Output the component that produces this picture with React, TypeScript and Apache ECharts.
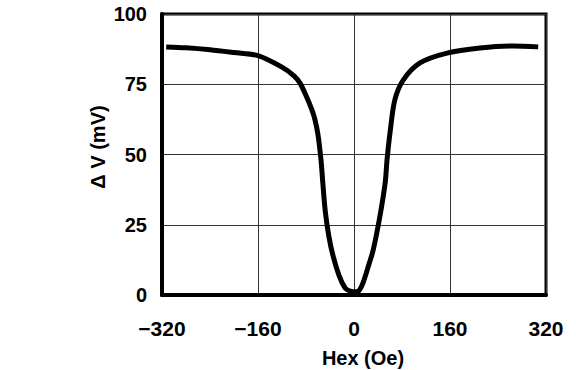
import React, { useEffect, useRef } from "react";
import * as echarts from "echarts";

const hexOe = [-313, -280, -240, -200, -160, -120, -100, -90, -80, -70, -65, -60, -55, -52, -48, -42, -35, -25, -15, -8, 0, 8, 15, 25, 32, 43, 52, 55, 60, 68, 82, 110, 155, 210, 265, 307];
const deltaV = [88.3, 88.0, 87.3, 86.3, 85.2, 81.1, 78.0, 75.4, 71.0, 65.8, 62.3, 57.0, 48.0, 40.0, 30.0, 21.0, 14.0, 7.0, 2.5, 1.5, 1.2, 1.5, 4.3, 11.0, 16.0, 27.8, 40.0, 48.0, 57.7, 69.4, 76.5, 82.6, 86.1, 87.9, 88.6, 88.3];
const xTicks = [-320, -160, 0, 160, 320];
const yTicks = [0, 25, 50, 75, 100];

const FONT = "'Liberation Sans', Arial, sans-serif";

export default function App() {
  const ref = useRef<HTMLDivElement>(null);
  useEffect(() => {
    document.body.style.margin = "0";
    if (!ref.current) return;
    const chart = echarts.init(ref.current, undefined, { renderer: "svg" });
    const data = hexOe.map((x, i) => [x, deltaV[i]]);
    chart.setOption({
      animation: false,
      backgroundColor: "#fff",
      grid: {
        left: 162,
        right: 30,
        top: 14,
        bottom: 75,
        show: true,
        borderColor: "#000",
        borderWidth: 3,
      },
      xAxis: {
        type: "value",
        min: xTicks[0],
        max: xTicks[xTicks.length - 1],
        interval: 160,
        axisLine: { show: true, onZero: false, lineStyle: { color: "#000", width: 4 } },
        axisTick: { show: false },
        splitLine: { show: true, lineStyle: { color: "#333", width: 1 } },
        axisLabel: {
          margin: 23,
          color: "#000",
          fontSize: 21,
          fontWeight: "bold",
          fontFamily: FONT,
          formatter: (v: number) => String(v).replace("-", "−"),
        },
      },
      yAxis: {
        type: "value",
        min: yTicks[0],
        max: yTicks[yTicks.length - 1],
        interval: 25,
        axisLine: { show: true, onZero: false, lineStyle: { color: "#000", width: 4 } },
        axisTick: { show: false },
        splitLine: { show: true, lineStyle: { color: "#333", width: 1 } },
        axisLabel: {
          margin: 15,
          color: "#000",
          fontSize: 20,
          fontWeight: "bold",
          fontFamily: FONT,
          padding: [6, 0, 0, 0],
        },
      },
      graphic: [
        {
          type: "text",
          x: 98,
          y: 147,
          rotation: Math.PI / 2,
          style: {
            text: "Δ V (mV)",
            fill: "#000",
            font: `bold 20px ${FONT}`,
            textAlign: "center",
            textVerticalAlign: "middle",
          },
        },
        {
          type: "text",
          x: 363,
          y: 358,
          style: {
            text: "Hex (Oe)",
            fill: "#000",
            font: `bold 20px ${FONT}`,
            textAlign: "center",
            textVerticalAlign: "middle",
          },
        },
      ],
      series: [
        {
          type: "line",
          data,
          smooth: 0.3,
          showSymbol: false,
          lineStyle: { color: "#000", width: 5 },
        },
      ],
    });
    return () => chart.dispose();
  }, []);
  return <div ref={ref} style={{ width: 576, height: 370 }} />;
}
